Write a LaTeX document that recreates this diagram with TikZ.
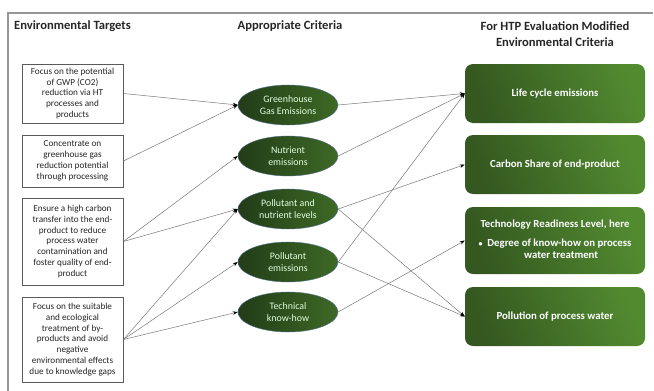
\documentclass[tikz,border=0pt]{standalone}
\usepackage{fontspec}
\setmainfont{Carlito}
\usetikzlibrary{shapes.geometric,arrows.meta}
\definecolor{framegray}{RGB}{150,150,150}
\definecolor{boxgray}{RGB}{90,90,90}
\definecolor{linegray}{RGB}{120,120,120}
\definecolor{elldark}{RGB}{34,60,24}
\definecolor{elllight}{RGB}{62,105,38}
\definecolor{rbdark}{RGB}{52,88,32}
\definecolor{rblight}{RGB}{82,138,48}
\definecolor{ellrim}{RGB}{80,110,140}
\begin{document}
\begin{tikzpicture}[x=1pt,y=-1pt,
  tbox/.style={draw=boxgray,line width=0.9pt,fill=white,minimum width=101pt,inner sep=1pt,
    align=center,font=\fontsize{9.2}{10.8}\selectfont,text=black!85},
  crit/.style={ellipse,draw=ellrim,line width=0.4pt,left color=elldark,right color=elllight,
    minimum width=100pt,minimum height=40pt,inner sep=0pt,align=center,
    font=\fontsize{9.9}{11.5}\selectfont,text=white!88!green},
  mod/.style={rounded corners=8pt,left color=rbdark,right color=rblight,shading angle=110,
    minimum width=180pt,inner sep=2pt,align=center,
    font=\bfseries\fontsize{10.8}{12.5}\selectfont,text=white},
  head/.style={font=\bfseries\fontsize{12.6}{16}\selectfont,text=black!85,align=center,inner sep=0pt},
  conn/.style={draw=linegray,line width=0.5pt,-{Stealth[length=5pt,width=3.5pt,color=black,fill=black]}}
]
\useasboundingbox (0,0) rectangle (654,391);
% partial frame
\coordinate (fTL) at (8,13);
\coordinate (fTR) at (653,13);
\coordinate (fBL) at (8,391);
\draw[framegray,line width=1.3pt] (fBL) -- (fTL) -- (fTR);

% headers
\node[head,anchor=west] (h1) at (14,26) {Environmental Targets};
\node[head] (h2) at (290,26) {Appropriate Criteria};
\node[head] (h3) at (555,34) {For HTP Evaluation Modified\\Environmental Criteria};

% left boxes
\node[tbox,minimum height=59pt] (t1) at (72.5,93.5) {Focus on the potential\\of GWP (CO2)\\reduction via HT\\processes and\\products};
\node[tbox,minimum height=52pt] (t2) at (72.5,161) {Concentrate on\\greenhouse gas\\reduction potential\\through processing};
\node[tbox,minimum height=87pt] (t3) at (72.5,241.5) {Ensure a high carbon\\transfer into the end-\\product to reduce\\process water\\contamination and\\foster quality of end-\\product};
\node[tbox,minimum height=85pt] (t4) at (72.5,339.5) {Focus on the suitable\\and ecological\\treatment of by-\\products and avoid\\negative\\environmental effects\\due to knowledge gaps};

% criteria ellipses
\node[crit] (c1) at (288,105) {Greenhouse\\Gas Emissions};
\node[crit] (c2) at (288,156) {Nutrient\\emissions};
\node[crit] (c3) at (288,209) {Pollutant and\\nutrient levels};
\node[crit] (c4) at (288,262) {Pollutant\\emissions};
\node[crit] (c5) at (288,312) {Technical\\know-how};

% modified criteria boxes
\node[mod,minimum height=59pt] (m1) at (555,93.5) {Life cycle emissions};
\node[mod,minimum height=59pt] (m2) at (555,164.5) {Carbon Share of end-product};
\node[mod,minimum height=67pt] (m3) at (555,240.5) {%
  \begin{tabular}{@{}l@{\ \ }l@{}}
  \multicolumn{2}{@{}c@{}}{Technology Readiness Level, here}\\[6pt]
  {\footnotesize\textbullet} & Degree of know-how on process\\
  & \hspace{3.4em}water treatment
  \end{tabular}};
\node[mod,minimum height=59pt] (m4) at (555,316.5) {Pollution of process water};

% connectors: targets -> criteria
\draw[conn] (t1.east) -- (c1.west);
\draw[conn] (t2.east) -- (c1.west);
\draw[conn] (t3.east) -- (c2.west);
\draw[conn] (t3.east) -- (c3.west);
\draw[conn] (t4.east) -- (c3.west);
\draw[conn] (t4.east) -- (c4.west);
\draw[conn] (t4.east) -- (c5.west);

% connectors: criteria -> modified criteria
\draw[conn] (c1.east) -- (m1.west);
\draw[conn] (c2.east) -- (m1.west);
\draw[conn] (c4.east) -- (m1.west);
\draw[conn] (c3.east) -- (m2.west);
\draw[conn] (c5.east) -- (m3.west);
\draw[conn] (c3.east) -- (m4.west);
\draw[conn] (c4.east) -- (m4.west);
\end{tikzpicture}
\end{document}
